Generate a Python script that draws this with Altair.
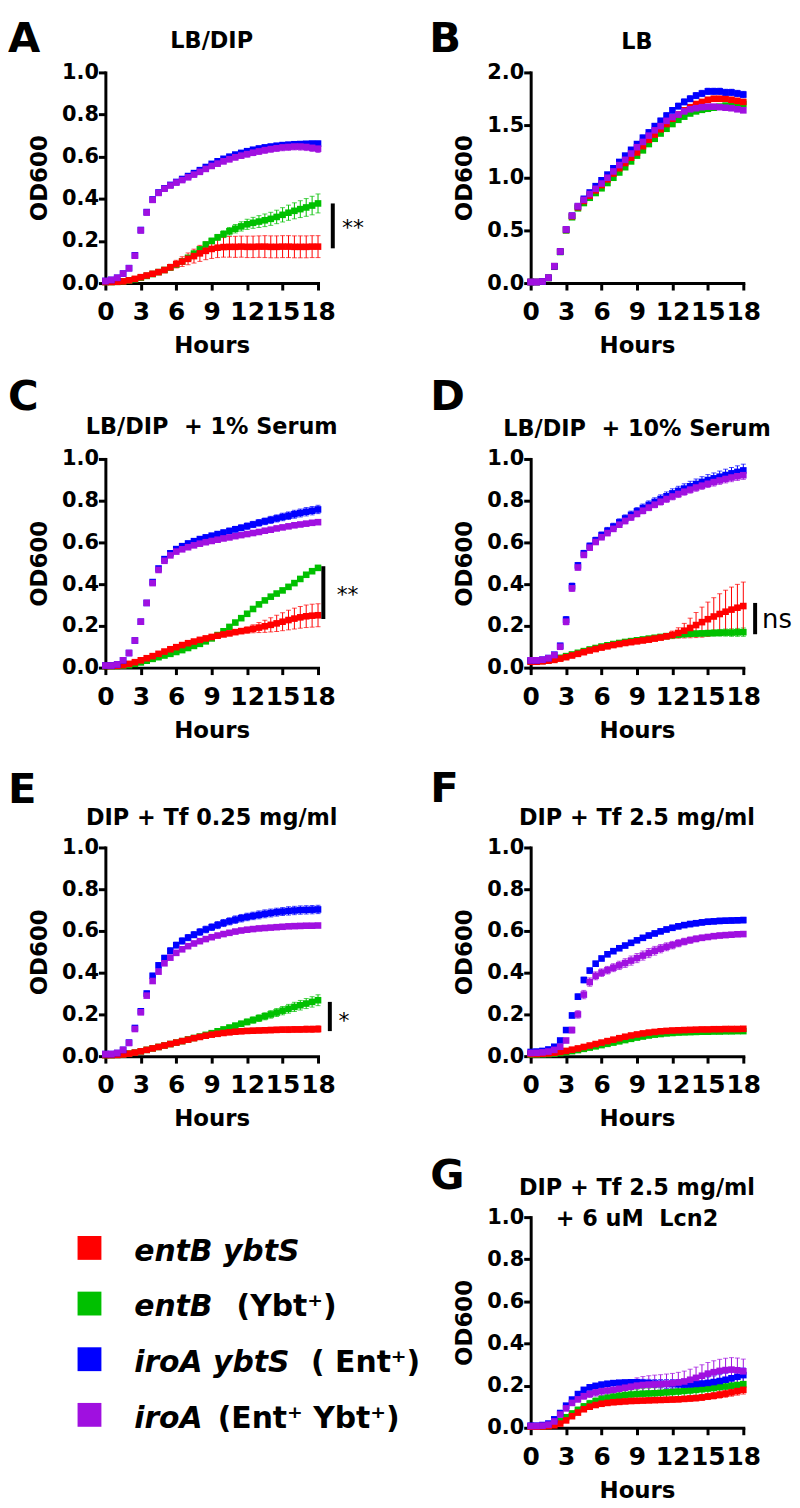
import altair as alt
import pandas as pd

FONT = "DejaVu Sans"

HOURS = [0.0, 0.5, 1.0, 1.5, 2.0, 2.5, 3.0, 3.5, 4.0, 4.5, 5.0, 5.5, 6.0, 6.5, 7.0, 7.5, 8.0, 8.5, 9.0,
         9.5, 10.0, 10.5, 11.0, 11.5, 12.0, 12.5, 13.0, 13.5, 14.0, 14.5, 15.0, 15.5, 16.0, 16.5, 17.0, 17.5, 18.0]

STRAINS = ["entB ybtS", "entB (Ybt+)", "iroA ybtS (Ent+)", "iroA (Ent+ Ybt+)"]
COLORS = ["#FF0000", "#00C000", "#0000FF", "#A010E0"]
COLORS_ALT = ["#FF0000", "#00C000", "#0000FF", "#B414C8"]
DRAW_ORDER = [1, 0, 2, 3]

X_TICKS = [0, 3, 6, 9, 12, 15, 18]
Y_TICKS_1 = [0.0, 0.2, 0.4, 0.6, 0.8, 1.0]
Y_TICKS_2 = [0.0, 0.5, 1.0, 1.5, 2.0]

# ---------------- Panel A : LB/DIP ----------------
A_RED = [.005, .005, .006, .008, .013, .020, .028, .036, .044, .052, .062, .075, .090, .102, .115, .128, .141, .153, .162,
         .168, .171, .172, .172, .173, .172, .172, .173, .173, .172, .172, .173, .173, .172, .172, .172, .173, .173]
A_GREEN = [.005, .005, .006, .008, .012, .018, .026, .034, .043, .052, .062, .074, .088, .103, .120, .140, .160, .183, .200,
           .217, .232, .246, .258, .269, .279, .286, .292, .298, .305, .314, .324, .334, .343, .351, .359, .368, .378]
A_BLUE = [.010, .015, .025, .045, .071, .132, .252, .337, .397, .430, .450, .466, .480, .494, .508, .522, .536, .551, .566,
          .578, .590, .600, .610, .618, .626, .633, .639, .644, .648, .652, .655, .657, .659, .660, .661, .662, .662]
A_PURPLE = [.010, .015, .025, .045, .070, .130, .250, .335, .395, .428, .448, .463, .477, .489, .502, .515, .528, .542, .556,
            .567, .578, .588, .597, .605, .612, .619, .625, .631, .636, .640, .644, .646, .648, .648, .646, .642, .638]
A_RED_SD = [.002, .002, .002, .002, .003, .004, .005, .006, .007, .009, .011, .014, .018, .023, .028, .033, .038, .042, .045,
            .047, .048, .049, .050, .050, .051, .051, .051, .052, .052, .052, .052, .052, .052, .052, .052, .052, .052]
A_GREEN_SD = [.002, .002, .002, .002, .003, .003, .004, .004, .005, .005, .006, .006, .007, .008, .009, .010, .011, .012, .013,
              .014, .016, .018, .020, .022, .024, .026, .028, .030, .031, .032, .034, .036, .038, .040, .042, .044, .045]
A_BLUE_SD = [.002, .002, .002, .003, .004, .006, .008, .008, .008, .007, .007, .007, .007, .007, .008, .008, .008, .008, .009,
             .009, .009, .009, .010, .010, .010, .010, .010, .011, .011, .011, .011, .011, .012, .012, .012, .012, .012]
A_PURPLE_SD = [.002, .002, .002, .003, .005, .008, .012, .012, .010, .009, .009, .009, .010, .010, .010, .011, .011, .011, .012,
               .012, .012, .013, .013, .013, .014, .014, .014, .015, .015, .015, .016, .016, .016, .017, .017, .017, .018]

# ---------------- Panel B : LB ----------------
B_RED = [.010, .010, .015, .050, .160, .300, .505, .635, .720, .780, .830, .880, .930, .985, 1.04, 1.09, 1.14, 1.19, 1.24,
         1.30, 1.36, 1.41, 1.46, 1.51, 1.56, 1.60, 1.64, 1.67, 1.70, 1.72, 1.74, 1.75, 1.75, 1.75, 1.74, 1.73, 1.72]
B_GREEN = [.010, .010, .015, .048, .155, .295, .500, .625, .710, .760, .810, .855, .900, .950, 1.00, 1.05, 1.10, 1.155, 1.21,
           1.26, 1.32, 1.37, 1.42, 1.465, 1.51, 1.55, 1.58, 1.61, 1.63, 1.645, 1.655, 1.665, 1.675, 1.685, 1.69, 1.695, 1.70]
B_BLUE = [.010, .010, .015, .050, .160, .300, .510, .640, .730, .800, .860, .920, .976, 1.03, 1.09, 1.15, 1.21, 1.265, 1.32,
          1.38, 1.43, 1.49, 1.54, 1.59, 1.64, 1.68, 1.72, 1.75, 1.78, 1.80, 1.82, 1.82, 1.82, 1.81, 1.81, 1.80, 1.79]
B_PURPLE = [.010, .010, .015, .050, .160, .300, .510, .640, .730, .790, .845, .895, .945, 1.00, 1.06, 1.12, 1.17, 1.23, 1.29,
            1.34, 1.40, 1.45, 1.49, 1.54, 1.575, 1.60, 1.63, 1.65, 1.66, 1.67, 1.675, 1.675, 1.67, 1.665, 1.66, 1.65, 1.64]
B_RED_SD = [.003, .003, .003, .005, .008, .010, .012, .012, .012, .013, .013, .014, .014, .015, .015, .016, .016, .017, .017,
            .018, .018, .019, .019, .020, .020, .021, .021, .022, .022, .022, .023, .023, .023, .023, .023, .023, .023]
B_GREEN_SD = [.003, .003, .003, .005, .008, .010, .011, .011, .011, .012, .012, .012, .013, .013, .013, .014, .014, .014, .015,
              .015, .015, .016, .016, .016, .017, .017, .017, .018, .018, .018, .018, .019, .019, .019, .019, .019, .019]
B_BLUE_SD = [.003, .003, .003, .005, .008, .010, .012, .013, .014, .015, .016, .017, .018, .019, .020, .021, .022, .023, .024,
             .025, .025, .026, .026, .027, .027, .028, .028, .029, .029, .030, .030, .030, .030, .030, .030, .030, .030]
B_PURPLE_SD = [.003, .003, .003, .005, .008, .010, .011, .011, .012, .012, .012, .013, .013, .013, .014, .014, .014, .015, .015,
               .015, .016, .016, .016, .017, .017, .017, .018, .018, .018, .018, .019, .019, .019, .019, .019, .019, .019]

# ---------------- Panel C : LB/DIP + 1% Serum ----------------
C_RED = [.008, .008, .009, .012, .018, .026, .035, .045, .055, .066, .077, .088, .098, .108, .117, .125, .133, .140, .147,
         .153, .159, .164, .170, .175, .180, .186, .192, .198, .205, .212, .220, .228, .235, .241, .246, .249, .251]
C_GREEN = [.008, .008, .008, .010, .012, .018, .025, .033, .042, .050, .058, .066, .075, .084, .094, .104, .114, .126, .140,
           .156, .174, .195, .216, .237, .258, .281, .303, .322, .340, .355, .370, .387, .405, .425, .445, .462, .478]
C_BLUE = [.010, .010, .015, .035, .070, .130, .220, .310, .410, .475, .520, .548, .568, .582, .595, .606, .616, .624, .632,
          .640, .647, .655, .663, .670, .678, .686, .694, .701, .708, .715, .722, .728, .735, .741, .747, .752, .758]
C_PURPLE = [.010, .010, .015, .035, .070, .130, .220, .310, .405, .468, .512, .538, .556, .567, .577, .586, .594, .601, .607,
            .613, .619, .624, .630, .635, .640, .645, .650, .656, .661, .667, .672, .677, .682, .686, .690, .694, .697]
C_RED_SD = [.002, .002, .002, .002, .003, .003, .003, .004, .004, .004, .004, .005, .005, .005, .005, .005, .005, .006, .006,
            .006, .007, .008, .010, .012, .015, .019, .024, .029, .034, .039, .043, .047, .050, .052, .054, .055, .055]
C_GREEN_SD = [.002, .002, .002, .002, .002, .003, .003, .003, .003, .003, .003, .004, .004, .004, .004, .004, .004, .005, .005,
              .005, .005, .005, .006, .006, .006, .006, .006, .007, .007, .007, .007, .007, .008, .008, .008, .008, .008]
C_BLUE_SD = [.002, .002, .002, .003, .004, .006, .008, .009, .010, .010, .010, .010, .010, .010, .011, .011, .011, .012, .012,
             .012, .013, .013, .014, .014, .015, .015, .016, .016, .017, .017, .018, .018, .019, .019, .020, .020, .020]
C_PURPLE_SD = [.002, .002, .002, .003, .004, .005, .006, .006, .006, .006, .006, .006, .006, .006, .006, .007, .007, .007, .007,
               .007, .007, .007, .008, .008, .008, .008, .008, .008, .008, .009, .009, .009, .009, .009, .009, .009, .009]

# ---------------- Panel D : LB/DIP + 10% Serum ----------------
D_RED = [.028, .028, .030, .033, .037, .043, .050, .058, .066, .074, .082, .089, .096, .102, .108, .113, .118, .122, .126,
         .130, .134, .139, .144, .150, .157, .166, .177, .190, .204, .218, .232, .245, .257, .268, .278, .287, .295]
D_GREEN = [.030, .030, .032, .035, .040, .047, .055, .063, .071, .079, .087, .094, .101, .107, .113, .118, .123, .127, .131,
           .135, .139, .143, .147, .151, .155, .158, .160, .162, .163, .164, .165, .166, .167, .168, .168, .169, .170]
D_BLUE = [.035, .035, .038, .046, .062, .105, .230, .390, .490, .548, .583, .610, .635, .656, .676, .696, .715, .732, .749,
          .765, .780, .794, .808, .821, .835, .847, .858, .869, .880, .890, .899, .907, .915, .923, .931, .938, .945]
D_PURPLE = [.035, .035, .038, .045, .060, .100, .220, .380, .480, .540, .575, .602, .625, .645, .665, .685, .703, .720, .737,
            .752, .767, .781, .795, .808, .820, .832, .843, .853, .863, .872, .881, .889, .897, .904, .911, .917, .922]
D_RED_SD = [.003, .003, .003, .003, .003, .004, .004, .004, .004, .005, .005, .005, .005, .005, .005, .005, .006, .006, .006,
            .006, .007, .008, .010, .013, .018, .025, .035, .047, .060, .072, .082, .090, .097, .103, .108, .112, .115]
D_GREEN_SD = [.003, .003, .003, .003, .003, .004, .004, .004, .004, .004, .005, .005, .005, .005, .005, .006, .006, .006, .006,
              .007, .007, .007, .008, .008, .009, .009, .010, .011, .012, .013, .014, .015, .016, .017, .018, .019, .020]
D_BLUE_SD = [.003, .003, .003, .004, .006, .010, .015, .015, .014, .014, .014, .015, .015, .016, .016, .017, .017, .018, .018,
             .019, .019, .020, .020, .021, .022, .022, .023, .024, .024, .025, .026, .026, .027, .028, .028, .029, .030]
D_PURPLE_SD = [.003, .003, .003, .004, .006, .010, .015, .015, .013, .012, .012, .012, .012, .013, .013, .013, .014, .014, .014,
               .015, .015, .015, .016, .016, .016, .017, .017, .017, .018, .018, .018, .019, .019, .019, .020, .020, .020]

# ---------------- Panel E : DIP + Tf 0.25 mg/ml ----------------
E_RED = [.005, .005, .006, .008, .012, .017, .023, .030, .037, .044, .051, .058, .065, .072, .079, .086, .092, .098, .103,
         .107, .111, .114, .117, .119, .121, .122, .123, .124, .125, .126, .127, .127, .128, .128, .129, .129, .130]
E_GREEN = [.005, .005, .006, .008, .012, .017, .023, .030, .037, .044, .051, .058, .065, .072, .080, .087, .094, .102, .110,
           .119, .128, .137, .146, .155, .164, .173, .182, .191, .200, .209, .218, .227, .236, .244, .252, .260, .268]
E_BLUE = [.010, .010, .015, .030, .065, .135, .215, .300, .385, .435, .470, .505, .532, .552, .568, .582, .595, .607, .618,
          .628, .638, .646, .654, .661, .667, .672, .677, .682, .686, .690, .693, .696, .698, .700, .701, .702, .703]
E_PURPLE = [.010, .010, .015, .030, .063, .130, .210, .290, .360, .405, .445, .472, .495, .512, .527, .540, .551, .561, .570,
            .578, .585, .591, .597, .602, .606, .609, .612, .614, .616, .618, .620, .622, .623, .624, .625, .625, .626]
E_RED_SD = [.002, .002, .002, .002, .003, .003, .003, .004, .004, .004, .005, .005, .005, .006, .006, .007, .007, .008, .008,
            .009, .009, .010, .010, .011, .011, .012, .012, .012, .013, .013, .013, .014, .014, .014, .015, .015, .015]
E_GREEN_SD = [.002, .002, .002, .002, .003, .003, .003, .004, .004, .004, .005, .005, .005, .006, .006, .007, .007, .008, .008,
              .009, .010, .011, .012, .013, .014, .015, .016, .017, .018, .019, .020, .021, .022, .023, .024, .025, .026]
E_BLUE_SD = [.002, .002, .002, .003, .005, .008, .010, .012, .012, .013, .013, .014, .014, .015, .015, .015, .016, .016, .016,
             .017, .017, .017, .018, .018, .018, .018, .019, .019, .019, .019, .019, .020, .020, .020, .020, .020, .020]
E_PURPLE_SD = [.002, .002, .002, .003, .004, .006, .008, .009, .008, .007, .007, .006, .006, .006, .006, .006, .006, .006, .006,
               .006, .006, .006, .006, .006, .006, .006, .006, .006, .006, .006, .006, .006, .006, .006, .006, .006, .006]

# ---------------- Panel F : DIP + Tf 2.5 mg/ml ----------------
F_RED = [.010, .010, .011, .013, .016, .020, .025, .031, .037, .044, .051, .058, .065, .072, .079, .086, .093, .099, .104,
         .109, .113, .116, .119, .121, .123, .124, .125, .126, .127, .128, .128, .129, .129, .130, .130, .130, .131]
F_GREEN = [.008, .008, .009, .010, .012, .015, .019, .024, .029, .035, .041, .047, .053, .059, .065, .071, .077, .083, .089,
           .094, .099, .103, .106, .109, .111, .113, .114, .115, .116, .117, .117, .118, .118, .119, .119, .120, .120]
F_BLUE = [.020, .022, .025, .032, .045, .075, .125, .195, .285, .365, .410, .443, .468, .488, .503, .517, .530, .543, .555,
          .567, .578, .588, .598, .607, .615, .622, .628, .633, .637, .641, .644, .646, .648, .649, .650, .651, .652]
F_PURPLE = [.015, .016, .018, .022, .030, .045, .075, .125, .200, .295, .355, .385, .400, .412, .424, .435, .446, .458, .470,
            .482, .494, .505, .515, .524, .532, .541, .549, .556, .562, .567, .571, .575, .578, .580, .582, .584, .585]
F_RED_SD = [.002, .002, .002, .002, .002, .003, .003, .003, .004, .004, .004, .005, .005, .005, .006, .006, .006, .007, .007,
            .007, .008, .008, .008, .008, .009, .009, .009, .009, .010, .010, .010, .010, .010, .011, .011, .011, .011]
F_GREEN_SD = [.002, .002, .002, .002, .002, .002, .003, .003, .003, .003, .004, .004, .004, .004, .005, .005, .005, .005, .006,
              .006, .006, .006, .007, .007, .007, .007, .008, .008, .008, .008, .008, .009, .009, .009, .009, .009, .009]
F_BLUE_SD = [.004, .004, .004, .005, .006, .008, .010, .012, .013, .013, .012, .012, .011, .011, .011, .011, .011, .011, .011,
             .011, .012, .012, .012, .012, .012, .012, .012, .013, .013, .013, .013, .013, .013, .013, .013, .013, .013]
F_PURPLE_SD = [.003, .003, .003, .004, .005, .007, .010, .014, .018, .020, .020, .019, .018, .018, .019, .020, .021, .022, .022,
               .022, .022, .021, .020, .019, .018, .017, .016, .015, .014, .013, .012, .011, .011, .010, .010, .010, .010]

# ---------------- Panel G : DIP + Tf 2.5 mg/ml + 6 uM Lcn2 ----------------
G_RED = [.005, .005, .006, .008, .012, .020, .035, .055, .072, .088, .100, .108, .114, .118, .121, .123, .125, .127, .128,
         .129, .130, .131, .132, .133, .134, .135, .137, .139, .141, .144, .148, .152, .157, .162, .168, .174, .180]
G_GREEN = [.005, .005, .007, .010, .020, .033, .050, .068, .085, .101, .115, .126, .135, .142, .148, .152, .155, .158, .160,
           .162, .163, .164, .166, .168, .170, .172, .175, .177, .180, .183, .186, .189, .193, .196, .200, .203, .207]
G_BLUE = [.010, .010, .013, .020, .040, .070, .105, .134, .160, .180, .192, .199, .205, .209, .212, .214, .215, .216, .216,
          .214, .212, .210, .209, .208, .207, .206, .205, .206, .208, .210, .213, .217, .222, .228, .235, .242, .250]
G_PURPLE = [.008, .008, .010, .015, .030, .063, .092, .118, .135, .150, .160, .168, .173, .177, .180, .185, .190, .195, .200,
            .203, .205, .206, .207, .209, .211, .215, .220, .228, .237, .247, .257, .264, .270, .274, .276, .273, .268]
G_RED_SD = [.002, .002, .002, .003, .004, .005, .006, .007, .008, .009, .010, .010, .010, .010, .010, .010, .010, .010, .010,
            .010, .011, .011, .011, .011, .012, .012, .012, .013, .013, .014, .014, .015, .016, .017, .018, .019, .020]
G_GREEN_SD = [.002, .002, .002, .003, .004, .006, .008, .010, .012, .014, .015, .016, .017, .018, .019, .020, .021, .022, .023,
              .024, .025, .026, .027, .028, .029, .030, .030, .031, .031, .032, .032, .033, .033, .034, .034, .035, .035]
G_BLUE_SD = [.002, .002, .002, .003, .004, .006, .008, .009, .010, .010, .010, .010, .009, .009, .009, .010, .011, .012, .014,
             .016, .018, .019, .020, .021, .022, .023, .024, .025, .026, .027, .028, .029, .030, .031, .032, .033, .034]
G_PURPLE_SD = [.002, .002, .002, .003, .004, .006, .008, .010, .012, .014, .016, .018, .020, .022, .025, .028, .031, .034, .037,
               .040, .042, .044, .045, .046, .047, .048, .049, .050, .051, .052, .053, .054, .055, .056, .057, .058, .058]

PANEL_DATA = {
    "A": ([A_RED, A_GREEN, A_BLUE, A_PURPLE], [A_RED_SD, A_GREEN_SD, A_BLUE_SD, A_PURPLE_SD]),
    "B": ([B_RED, B_GREEN, B_BLUE, B_PURPLE], [B_RED_SD, B_GREEN_SD, B_BLUE_SD, B_PURPLE_SD]),
    "C": ([C_RED, C_GREEN, C_BLUE, C_PURPLE], [C_RED_SD, C_GREEN_SD, C_BLUE_SD, C_PURPLE_SD]),
    "D": ([D_RED, D_GREEN, D_BLUE, D_PURPLE], [D_RED_SD, D_GREEN_SD, D_BLUE_SD, D_PURPLE_SD]),
    "E": ([E_RED, E_GREEN, E_BLUE, E_PURPLE], [E_RED_SD, E_GREEN_SD, E_BLUE_SD, E_PURPLE_SD]),
    "F": ([F_RED, F_GREEN, F_BLUE, F_PURPLE], [F_RED_SD, F_GREEN_SD, F_BLUE_SD, F_PURPLE_SD]),
    "G": ([G_RED, G_GREEN, G_BLUE, G_PURPLE], [G_RED_SD, G_GREEN_SD, G_BLUE_SD, G_PURPLE_SD]),
}
for _k, (_ss, _ds) in PANEL_DATA.items():
    for _i, (_s, _d) in enumerate(zip(_ss, _ds)):
        if len(_s) != len(HOURS) or len(_d) != len(HOURS):
            raise ValueError(f"length mismatch in panel {_k} series {_i}: {len(_s)} {len(_d)}")

NB2 = "\u00a0\u00a0"  # two non-collapsing spaces, as in the original titles
TITLES = {
    "A": "LB/DIP", "B": "LB", "C": "LB/DIP" + NB2 + "+ 1% Serum", "D": "LB/DIP" + NB2 + "+ 10% Serum",
    "E": "DIP + Tf 0.25 mg/ml", "F": "DIP + Tf 2.5 mg/ml", "G": "DIP + Tf 2.5 mg/ml\n+ 6 uM" + NB2 + "Lcn2",
}
Y_MAX = {"A": 1.0, "B": 2.0, "C": 1.0, "D": 1.0, "E": 1.0, "F": 1.0, "G": 1.0}

# significance annotations: bar hour, bar low, bar high, label hour, label OD, label text
SIG_BAR_HOUR = {"A": 19.25, "C": 18.45, "D": 19.0, "E": 19.0}
SIG_BAR_LOW = {"A": 0.165, "C": 0.233, "D": 0.16, "E": 0.12}
SIG_BAR_HIGH = {"A": 0.378, "C": 0.486, "D": 0.31, "E": 0.26}
SIG_LABEL_HOUR = {"A": 20.95, "C": 20.5, "D": 20.85, "E": 20.2}
SIG_LABEL_OD = {"A": 0.29, "C": 0.375, "D": 0.225, "E": 0.195}
SIG_LABEL = {"A": "**", "C": "**", "D": "ns", "E": "*"}

LEGEND_ITALIC = ["entB ybtS", "entB", "iroA ybtS", "iroA"]
LEGEND_UPRIGHT = ["", "(Ybt\u207a)", "( Ent\u207a)", "(Ent\u207a Ybt\u207a)"]

# ---------------- layout (pixels) ----------------
W = 214
COL_GAP = 214
LEFT_EXT = 98
LETTER_POS = {"A": (-98, -21), "B": (-102, -21), "C": (-98, -49), "D": (-101, -49),
              "E": (-98, -45), "F": (-101, -46), "G": (-101, -28)}
TITLE_Y = {"A": -25, "B": -24, "C": -25, "D": -23, "E": -23, "F": -23, "G": -22}
LEG_SQ_X = -16
LEG_TEXT_X = 29
LEG_SUFFIX_X = [0, 132, 207, 113]
LEG_ROW_RANGE = [31, 199]


def one(**kw):
    return pd.DataFrame({k: [v] for k, v in kw.items()})


def spacer(h, top, bottom):
    return alt.Chart(one(z=0)).mark_rule(opacity=0).encode(
        x=alt.value(-LEFT_EXT), y=alt.value(-top), y2=alt.value(h + bottom))


def make_panel(key, h, top=None, bottom=None):
    series, sds = PANEL_DATA[key]
    recs = []
    for si in DRAW_ORDER:
        for t, v, s in zip(HOURS, series[si], sds[si]):
            recs.append({"hour": t, "od": v, "lo": max(v - s, 0.0), "hi": v + s, "strain": STRAINS[si]})
    df = pd.DataFrame(recs)
    ymax = Y_MAX[key]
    yticks = Y_TICKS_2 if ymax == 2.0 else Y_TICKS_1
    xs = alt.Scale(domain=[0, 18], nice=False, zero=False)
    ys = alt.Scale(domain=[0, ymax], nice=False, zero=True)
    xax = alt.Axis(values=X_TICKS, format="d", title="Hours")
    yax = alt.Axis(values=yticks, format=".1f", title="OD600")
    cs = alt.Scale(domain=STRAINS, range=COLORS_ALT if key in ("B", "F") else COLORS)
    col = alt.Color("strain:N", scale=cs, legend=None)

    layers = [
        alt.Chart(df).mark_errorbar(ticks=True, size=5, thickness=1).encode(
            x=alt.X("hour:Q", scale=xs, axis=xax),
            y=alt.Y("lo:Q", scale=ys, axis=yax),
            y2="hi:Q", color=col),
        alt.Chart(df).mark_square(size=44, opacity=1).encode(
            x=alt.X("hour:Q", scale=xs, axis=xax),
            y=alt.Y("od:Q", scale=ys, axis=yax),
            color=col),
    ]
    if key in SIG_LABEL:
        layers.append(alt.Chart(one(hour=SIG_BAR_HOUR[key], od=SIG_BAR_LOW[key], od2=SIG_BAR_HIGH[key]))
                      .mark_rule(strokeWidth=4, color="black").encode(
            x=alt.X("hour:Q", scale=xs, axis=xax),
            y=alt.Y("od:Q", scale=ys, axis=yax), y2="od2:Q"))
        is_ns = SIG_LABEL[key] == "ns"
        layers.append(alt.Chart(one(hour=SIG_LABEL_HOUR[key], od=SIG_LABEL_OD[key], lab=SIG_LABEL[key]))
                      .mark_text(font=FONT, fontSize=26 if is_ns else 22, color="black",
                                 baseline="middle", dy=-1 if is_ns else 6).encode(
            x=alt.X("hour:Q", scale=xs, axis=xax),
            y=alt.Y("od:Q", scale=ys, axis=yax), text="lab:N"))
    lx, ly = LETTER_POS[key]
    layers.append(alt.Chart(one(t=key)).mark_text(
        font=FONT, fontSize=42, fontWeight="bold", color="black", align="left", baseline="alphabetic"
    ).encode(text="t:N", x=alt.value(lx), y=alt.value(ly)))
    layers.append(alt.Chart(one(t=TITLES[key])).mark_text(
        font=FONT, fontSize=22.5, fontWeight="bold", color="black", align="center", baseline="alphabetic",
        lineBreak="\n", lineHeight=31
    ).encode(text="t:N", x=alt.value(W / 2), y=alt.value(TITLE_Y[key])))
    if top is not None:
        layers.append(spacer(h, top, bottom))
    return alt.layer(*layers).properties(width=W, height=h)


def make_legend(h, top, bottom):
    ldf = pd.DataFrame({"idx": [0, 1, 2, 3], "strain": STRAINS, "it": LEGEND_ITALIC})
    ysc = alt.Scale(type="point", domain=[0, 1, 2, 3], range=LEG_ROW_RANGE, padding=0)
    layers = [
        alt.Chart(ldf).mark_square(size=576, opacity=1).encode(
            x=alt.value(LEG_SQ_X), y=alt.Y("idx:O", scale=ysc, axis=None),
            color=alt.Color("strain:N", scale=alt.Scale(domain=STRAINS, range=COLORS), legend=None)),
        alt.Chart(ldf).mark_text(font=FONT, fontSize=30, fontWeight="bold", fontStyle="italic", color="black",
                                 align="left", baseline="alphabetic", dy=13).encode(
            x=alt.value(LEG_TEXT_X), y=alt.Y("idx:O", scale=ysc, axis=None), text="it:N"),
    ]
    for i, suf in enumerate(LEGEND_UPRIGHT):
        if not suf:
            continue
        layers.append(alt.Chart(one(idx=i, s=suf)).mark_text(
            font=FONT, fontSize=30, fontWeight="bold", color="black", align="left", baseline="alphabetic", dy=13
        ).encode(x=alt.value(LEG_SUFFIX_X[i]), y=alt.Y("idx:O", scale=ysc, axis=None), text="s:N"))
    layers.append(spacer(h, top, bottom))
    return alt.layer(*layers).properties(width=W, height=h)


row1 = alt.hconcat(make_panel("A", 212, 60, 90), make_panel("B", 212), spacing=COL_GAP, bounds="flush")
row2 = alt.hconcat(make_panel("C", 210, 87, 90), make_panel("D", 210), spacing=COL_GAP, bounds="flush")
row3 = alt.hconcat(make_panel("E", 210, 91, 90), make_panel("F", 210), spacing=COL_GAP, bounds="flush")
row4 = alt.hconcat(make_legend(212, 72, 90), make_panel("G", 212), spacing=COL_GAP, bounds="flush")

chart = alt.vconcat(row1, row2, row3, row4, spacing=0, bounds="full").properties(padding=0)
chart = chart.configure_view(strokeWidth=0).configure_axis(
    grid=False, domainColor="black", domainWidth=3, domainCap="square",
    tickColor="black", tickWidth=3, tickSize=7,
    labelFont=FONT, labelFontWeight="bold", labelColor="black",
    titleFont=FONT, titleFontWeight="bold", titleColor="black", titleFontSize=23,
    labelOverlap=False, labelFlush=False,
).configure_axisX(labelFontSize=25, labelPadding=10, titlePadding=10
).configure_axisY(labelFontSize=21, labelPadding=0, titlePadding=10)

chart.save("out.html", embed_options={"renderer": "svg", "actions": False})
